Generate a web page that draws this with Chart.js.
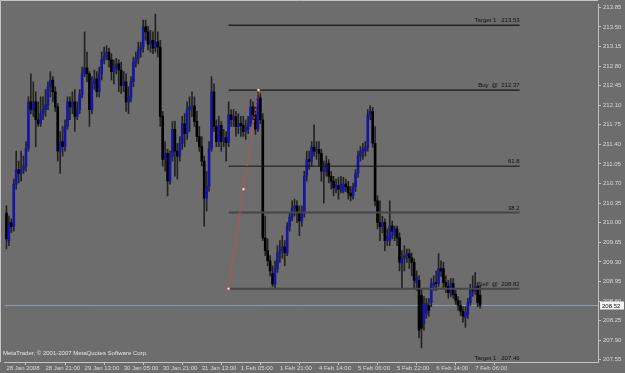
<!DOCTYPE html>
<html>
<head>
<meta charset="utf-8">
<script src="https://cdn.jsdelivr.net/npm/chart.js@4.4.1/dist/chart.umd.min.js"></script>
<style>
  html, body { margin: 0; padding: 0; background: #6d6d6d; }
  #wrap { width: 625px; height: 373px; }
</style>
</head>
<body>
<div id="wrap"><canvas id="c" width="625" height="373"></canvas></div>
<script>
// ── H1 candles, one entry per bar ────────────────────────────
const barOpen = [
  210.17, 209.68, 210.00, 209.93, 210.69, 210.95, 210.88, 210.95, 211.01, 211.33,
  212.16, 212.02, 212.16, 211.84, 211.77, 211.95, 212.02, 212.11, 212.43, 212.55,
  212.34, 212.07, 211.28, 211.45, 211.36, 211.72, 212.16, 212.07, 212.16, 211.90,
  212.02, 212.29, 212.66, 212.77, 212.66, 212.02, 212.48, 212.57, 212.34, 212.66,
  212.91, 212.98, 213.05, 212.91, 212.70, 212.77, 212.84, 212.73, 212.45, 212.52,
  212.16, 212.25, 212.52, 212.87, 212.94, 213.09, 213.14, 213.50, 213.41, 213.19,
  213.26, 213.12, 213.23, 213.14, 211.90, 211.13, 211.24, 210.74, 211.19, 211.67,
  211.28, 211.19, 211.42, 211.77, 211.59, 212.02, 212.07, 212.09, 211.81, 211.54,
  211.36, 211.10, 210.44, 210.65, 211.33, 212.34, 211.72, 211.45, 211.74, 211.45,
  211.52, 211.43, 211.93, 211.84, 211.90, 211.72, 211.77, 211.74, 211.63, 211.67,
  211.77, 212.07, 211.93, 211.67, 212.23, 211.84, 209.73, 209.50, 209.32, 209.09,
  208.90, 209.18, 209.46, 209.50, 209.57, 209.46, 209.94, 210.10, 210.26, 210.30,
  210.17, 210.03, 210.16, 210.83, 211.13, 211.10, 211.35, 211.28, 211.31, 211.24,
  210.92, 210.92, 211.06, 210.83, 210.74, 210.62, 210.67, 210.60, 210.56, 210.69,
  210.64, 210.53, 210.48, 210.64, 210.88, 211.19, 211.28, 211.28, 211.35, 211.93,
  211.99, 211.42, 210.39, 210.00, 209.93, 210.00, 209.68, 209.68, 209.94, 209.77,
  209.89, 209.73, 209.27, 209.36, 209.41, 209.45, 209.37, 209.29, 208.93, 208.97,
  208.70, 208.20, 208.38, 208.52, 208.57, 208.88, 208.93, 208.91, 209.18, 209.18,
  208.93, 208.86, 208.74, 208.91, 208.72, 208.61, 208.52, 208.42, 208.31, 208.38,
  208.57, 208.82, 208.77, 208.86, 208.70
];
const barHigh = [
  210.30, 210.12, 210.07, 210.78, 211.28, 211.10, 211.28, 211.19, 211.45, 212.25,
  212.66, 212.52, 212.34, 212.16, 212.25, 212.25, 212.38, 212.52, 212.70, 212.61,
  212.43, 212.13, 211.63, 211.72, 211.84, 212.25, 212.25, 212.34, 212.38, 212.16,
  212.38, 212.78, 213.41, 213.05, 212.70, 212.61, 212.73, 212.70, 212.78, 213.05,
  213.14, 213.16, 213.12, 213.02, 212.91, 212.94, 212.91, 212.87, 212.70, 212.66,
  212.43, 212.61, 212.96, 213.05, 213.23, 213.23, 213.62, 213.62, 213.51, 213.44,
  213.41, 213.73, 213.41, 213.26, 211.99, 211.45, 211.31, 211.28, 211.81, 211.81,
  211.42, 211.54, 211.90, 211.95, 212.16, 212.25, 212.34, 212.25, 211.99, 211.72,
  211.54, 211.19, 210.92, 211.45, 212.61, 212.48, 211.84, 211.90, 211.81, 211.67,
  211.63, 212.16, 212.02, 212.02, 211.99, 211.95, 211.90, 211.90, 211.84, 211.90,
  212.20, 212.16, 212.07, 212.38, 212.31, 211.95, 210.12, 209.71, 209.41, 209.23,
  209.32, 209.59, 209.68, 209.77, 209.68, 210.00, 210.17, 210.39, 210.42, 210.39,
  210.30, 210.30, 210.92, 211.28, 211.28, 211.45, 211.75, 211.45, 211.45, 211.31,
  211.10, 211.19, 211.13, 210.92, 210.83, 210.78, 210.81, 210.83, 210.81, 210.78,
  210.74, 210.65, 210.71, 210.95, 211.28, 211.36, 211.42, 211.45, 212.02, 212.09,
  212.06, 211.72, 210.48, 210.39, 210.12, 210.07, 209.89, 210.39, 210.03, 209.94,
  209.94, 209.82, 209.50, 209.59, 209.53, 209.53, 209.46, 209.36, 209.14, 209.05,
  208.79, 208.68, 208.65, 208.65, 209.00, 209.05, 209.14, 209.45, 209.32, 209.29,
  209.05, 208.97, 209.00, 209.00, 208.79, 208.68, 208.61, 208.50, 208.50, 208.65,
  208.90, 209.05, 209.11, 208.93, 208.88
];
const barLow = [
  209.53, 209.59, 209.82, 209.85, 210.60, 210.71, 210.74, 210.88, 210.92, 211.28,
  211.95, 211.90, 211.36, 211.72, 211.72, 211.84, 211.90, 212.02, 212.25, 212.16,
  211.99, 211.10, 210.88, 211.19, 211.28, 211.67, 211.84, 211.95, 211.63, 211.84,
  211.95, 212.23, 212.61, 212.52, 211.72, 211.95, 212.38, 212.25, 212.25, 212.55,
  212.84, 212.91, 212.78, 212.55, 212.48, 212.66, 212.34, 212.31, 212.34, 211.99,
  211.95, 212.16, 212.43, 212.78, 212.84, 212.96, 213.05, 213.26, 213.09, 213.05,
  213.02, 213.05, 212.96, 211.72, 211.01, 210.92, 210.48, 210.69, 211.10, 210.83,
  210.78, 211.10, 211.31, 211.36, 211.49, 211.63, 211.90, 211.72, 211.45, 211.28,
  211.01, 209.94, 210.21, 210.56, 211.28, 211.63, 211.36, 211.36, 211.28, 211.36,
  211.10, 211.36, 211.72, 211.72, 211.54, 211.59, 211.54, 211.54, 211.49, 211.59,
  211.72, 211.84, 211.58, 211.63, 211.77, 209.68, 209.41, 209.23, 209.05, 208.86,
  208.82, 209.11, 209.29, 209.36, 209.23, 209.41, 209.85, 210.03, 210.12, 210.00,
  209.77, 209.94, 210.10, 210.74, 210.95, 211.01, 211.19, 211.13, 211.01, 210.74,
  210.35, 210.83, 210.71, 210.60, 210.48, 210.53, 210.42, 210.53, 210.53, 210.56,
  210.42, 210.39, 210.42, 210.56, 210.81, 211.10, 211.13, 211.19, 211.28, 211.84,
  211.35, 210.30, 209.89, 209.68, 209.82, 209.50, 209.59, 209.59, 209.71, 209.68,
  209.59, 209.14, 208.82, 209.14, 209.29, 209.18, 209.05, 208.82, 208.79, 207.94,
  207.76, 208.08, 208.29, 208.33, 208.50, 208.79, 208.79, 208.86, 209.04, 208.84,
  208.75, 208.65, 208.68, 208.65, 208.54, 208.43, 208.34, 208.22, 208.13, 208.29,
  208.52, 208.68, 208.72, 208.50, 208.47
];
const barClose = [
  209.71, 210.00, 209.93, 210.69, 210.95, 210.88, 210.95, 211.01, 211.33, 212.16,
  212.02, 212.16, 211.84, 211.77, 211.95, 212.02, 212.11, 212.43, 212.55, 212.34,
  212.07, 211.28, 211.45, 211.36, 211.72, 212.16, 212.07, 212.16, 211.90, 212.02,
  212.29, 212.66, 212.77, 212.66, 212.02, 212.48, 212.57, 212.34, 212.66, 212.91,
  212.98, 213.05, 212.91, 212.70, 212.77, 212.84, 212.73, 212.45, 212.52, 212.16,
  212.25, 212.52, 212.87, 212.94, 213.09, 213.14, 213.50, 213.41, 213.19, 213.26,
  213.12, 213.23, 213.14, 211.90, 211.13, 211.24, 210.74, 211.19, 211.67, 211.28,
  211.19, 211.42, 211.77, 211.59, 212.02, 212.07, 212.09, 211.81, 211.54, 211.36,
  211.10, 210.44, 210.65, 211.33, 212.34, 211.72, 211.45, 211.74, 211.45, 211.52,
  211.43, 211.93, 211.84, 211.90, 211.72, 211.77, 211.74, 211.63, 211.70, 211.77,
  212.07, 211.93, 211.67, 212.23, 211.84, 209.73, 209.50, 209.32, 209.14, 208.90,
  209.18, 209.46, 209.50, 209.57, 209.46, 209.94, 210.10, 210.26, 210.30, 210.17,
  210.03, 210.16, 210.83, 211.13, 211.10, 211.35, 211.28, 211.31, 211.24, 210.92,
  210.95, 211.06, 210.83, 210.74, 210.62, 210.67, 210.60, 210.69, 210.69, 210.64,
  210.53, 210.48, 210.64, 210.88, 211.19, 211.28, 211.31, 211.35, 211.93, 211.99,
  211.42, 210.39, 210.00, 209.93, 210.00, 209.68, 209.75, 209.94, 209.85, 209.89,
  209.73, 209.29, 209.36, 209.41, 209.45, 209.37, 209.29, 208.97, 209.02, 208.08,
  208.11, 208.56, 208.56, 208.43, 208.91, 208.93, 208.91, 209.18, 209.14, 208.93,
  208.86, 208.75, 208.91, 208.72, 208.61, 208.52, 208.42, 208.33, 208.40, 208.57,
  208.82, 208.79, 208.86, 208.57, 208.52
];

// ── axes ─────────────────────────────────────────────────────
const xTickBars   = [0, 16, 32, 48, 64, 80, 96, 112, 128, 144, 160, 176, 192];
const xTickLabels = ['28 Jan 2008', '28 Jan 21:00', '29 Jan 13:00', '30 Jan 05:00', '30 Jan 21:00',
                     '31 Jan 13:00', '1 Feb 05:00', '1 Feb 21:00', '4 Feb 14:00', '5 Feb 06:00',
                     '5 Feb 22:00', '6 Feb 14:00', '7 Feb 06:00'];
const yTickValues = [207.55, 207.90, 208.25, 208.60, 208.95, 209.30, 209.65, 210.00, 210.35,
                     210.70, 211.05, 211.40, 211.75, 212.10, 212.45, 212.80, 213.15, 213.50, 213.85];

// ── drawn objects ────────────────────────────────────────────
const levelLabels = ['Target 1   213.53', 'Buy  @  212.37', '61.8', '38.2', 'Sell  @  208.82', 'Target 1   207.46'];
const levelPrices = [213.53, 212.37, 211.01, 210.18, 208.82, 207.46];
const levelSpan   = [91, 210.2];           // first / last bar of the level lines
const fibLineBars   = [91, 97.1, 103.2];
const fibLinePrices = [208.82, 210.60, 212.37];
const lastPrice = 208.52;

const BG = '#6d6d6d';
const FRAME = '#c4c4c4';
const TXT = '#dadada';
const FONT = 'Liberation Sans';

const levelColors = ['#000', '#000', '#141414', '#464646', '#464646', '#000'];
const levelWidths = [1, 1, 1, 2, 2, 1];

const wickData = barLow.map((l, i) => ({ x: i, y: [l, barHigh[i]] }));
const bodyData = barOpen.map((o, i) => ({ x: i, y: [o, barClose[i]] }));
const bodyColors = barOpen.map((o, i) => barClose[i] >= o ? '#1616a6' : '#000');

const levelSets = levelPrices.map((p, k) => ({
  type: 'line',
  data: [{ x: levelSpan[0], y: p }, { x: levelSpan[1], y: p }],
  borderColor: levelColors[k],
  borderWidth: levelWidths[k],
  pointRadius: 0,
  order: 0
}));

const mtPlugin = {
  id: 'mt',
  beforeDraw(chart) {
    const ctx = chart.ctx;
    ctx.save();
    ctx.fillStyle = BG;
    ctx.fillRect(0, 0, chart.width, chart.height);
    ctx.restore();
  },
  afterDatasetsDraw(chart) {
    const { ctx, chartArea: a, scales: { x, y } } = chart;
    ctx.save();
    // window frame (top + left)
    ctx.strokeStyle = FRAME;
    ctx.lineWidth = 1;
    ctx.beginPath();
    ctx.moveTo(0.5, a.bottom);
    ctx.lineTo(0.5, 0.5);
    ctx.lineTo(a.right, 0.5);
    ctx.stroke();

    // level captions
    ctx.font = `6px "${FONT}"`;
    ctx.fillStyle = '#101010';
    ctx.textAlign = 'right';
    ctx.textBaseline = 'bottom';
    const xr = x.getPixelForValue(levelSpan[1]);
    levelPrices.forEach((p, k) => {
      const py = Math.min(y.getPixelForValue(p), a.bottom + 1);
      ctx.fillText(levelLabels[k], xr, py - 1.5);
    });

    // copyright
    ctx.fillStyle = '#e4e4e4';
    ctx.textAlign = 'left';
    ctx.textBaseline = 'middle';
    ctx.fillText('MetaTrader, \u00a9 2001-2007 MetaQuotes Software Corp.', 3, a.bottom - 9);

    // last price box on the axis
    const ly = y.getPixelForValue(lastPrice);
    ctx.fillStyle = '#f4f4f4';
    ctx.fillRect(a.right + 2, ly - 4, 24, 8);
    ctx.fillStyle = '#202020';
    ctx.fillText(lastPrice.toFixed(2), a.right + 4, ly + 0.5);
    ctx.restore();
  }
};

new Chart(document.getElementById('c'), {
  type: 'bar',
  data: {
    datasets: [
      ...levelSets,
      {
        type: 'line',
        data: fibLineBars.map((b, i) => ({ x: b, y: fibLinePrices[i] })),
        borderColor: '#ff3a3a',
        borderWidth: 1,
        borderDash: [2, 2],
        pointStyle: 'rect',
        pointRadius: 1.5,
        pointBackgroundColor: '#ffffff',
        pointBorderColor: '#ff6060',
        pointBorderWidth: 0.5,
        order: -1
      },
      {
        type: 'line',
        data: [{ x: -0.8, y: lastPrice }, { x: 242.3, y: lastPrice }],
        borderColor: '#8e9cab',
        borderWidth: 1,
        pointRadius: 0,
        order: 5
      },
      {
        data: wickData,
        backgroundColor: '#232323',
        barThickness: 1,
        grouped: false,
        order: 2
      },
      {
        data: bodyData,
        backgroundColor: bodyColors,
        barThickness: 2,
        grouped: false,
        minBarLength: 1,
        order: 1
      }
    ]
  },
  options: {
    responsive: false,
    animation: false,
    devicePixelRatio: 1,
    layout: { padding: { top: 2, left: 0, right: 0, bottom: 0 } },
    plugins: {
      legend: { display: false },
      tooltip: { enabled: false }
    },
    scales: {
      x: {
        type: 'linear',
        min: -0.8,
        max: 242.3,
        offset: false,
        afterBuildTicks: s => { s.ticks = xTickBars.map(v => ({ value: v })); },
        afterFit: s => {
          s.height = 11;
          s.paddingLeft = 0; s.paddingRight = 0;
          s.paddingTop = 0; s.paddingBottom = 0;
        },
        ticks: {
          color: TXT,
          font: { family: FONT, size: 6 },
          align: 'start',
          padding: 0,
          maxRotation: 0,
          autoSkip: false,
          callback: v => xTickLabels[xTickBars.indexOf(v)]
        },
        grid: { drawOnChartArea: false, color: FRAME, tickLength: 3 },
        border: { color: FRAME }
      },
      y: {
        position: 'right',
        min: 207.51,
        max: 213.90,
        afterBuildTicks: s => { s.ticks = yTickValues.map(v => ({ value: v })); },
        afterFit: s => {
          s.width = 27;
          s.paddingLeft = 0; s.paddingRight = 0;
          s.paddingTop = 0; s.paddingBottom = 0;
        },
        ticks: {
          color: TXT,
          font: { family: FONT, size: 6 },
          padding: 2,
          callback: v => Number(v).toFixed(2)
        },
        grid: { drawOnChartArea: false, color: FRAME, tickLength: 3 },
        border: { color: FRAME }
      }
    }
  },
  plugins: [mtPlugin]
});
</script>
</body>
</html>
